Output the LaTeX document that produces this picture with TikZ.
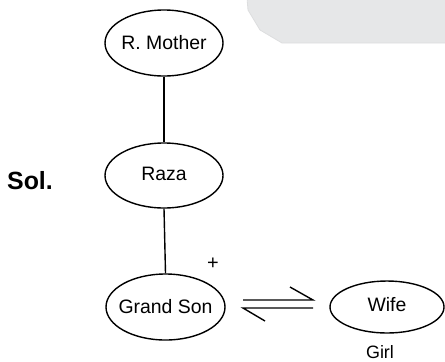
\documentclass[tikz,border=0pt]{standalone}
\usepackage{fontspec}
\setmainfont{Liberation Sans}
\usetikzlibrary{shapes.geometric}
\definecolor{panelgray}{HTML}{E6E7E8}
\definecolor{paneledge}{HTML}{DDDEDF}
\tikzset{
  person/.style={draw=black, line width=1.4bp, shape=ellipse, inner sep=0pt, font=\fontsize{19.5}{22}\selectfont},
  link/.style={draw=black, line width=1.4bp},
  lbl/.style={inner sep=0pt, font=\fontsize{18}{21}\selectfont}
}
\begin{document}
\begin{tikzpicture}[x=1bp,y=-1bp]
\useasboundingbox (0,0) rectangle (445,361);
\fill[panelgray, draw=paneledge, line width=0.8bp] (247,-2) -- (248,10) -- (260,30) -- (282,43) -- (447,43) -- (447,-2) -- cycle;
\node[person, minimum width=118bp, minimum height=66bp] (rm) at (164,43) {\makebox[0pt]{R. Mother}};
\node[person, minimum width=118bp, minimum height=65bp] (raza) at (164,175.5) {\makebox[0pt]{\raisebox{3bp}{Raza}}};
\node[person, minimum width=119bp, minimum height=66bp] (gs) at (165.5,307) {\makebox[0pt]{Grand Son}};
\node[person, minimum width=114bp, minimum height=52bp] (wife) at (387,307) {\makebox[0pt]{\raisebox{6bp}{Wife}}};
\node[lbl] (girl) at (380,352) {Girl};
\node[lbl, font=\fontsize{20}{22}\selectfont] (plus) at (213,264) {+};
\node[inner sep=0pt, font=\bfseries\fontsize{25}{28}\selectfont] (sol) at (30,181) {Sol.};
\draw[link] (rm.south) -- (raza.north);
\draw[link] (raza.south) -- (gs.north);
\coordinate (ua) at (243,300);
\coordinate (ub) at (313,300);
\coordinate (uc) at (290,287);
\coordinate (la) at (313,308);
\coordinate (lb) at (243,308);
\coordinate (lc) at (265,321);
\draw[link] (ua) -- (ub) -- (uc);
\draw[link] (la) -- (lb) -- (lc);
\end{tikzpicture}
\end{document}
